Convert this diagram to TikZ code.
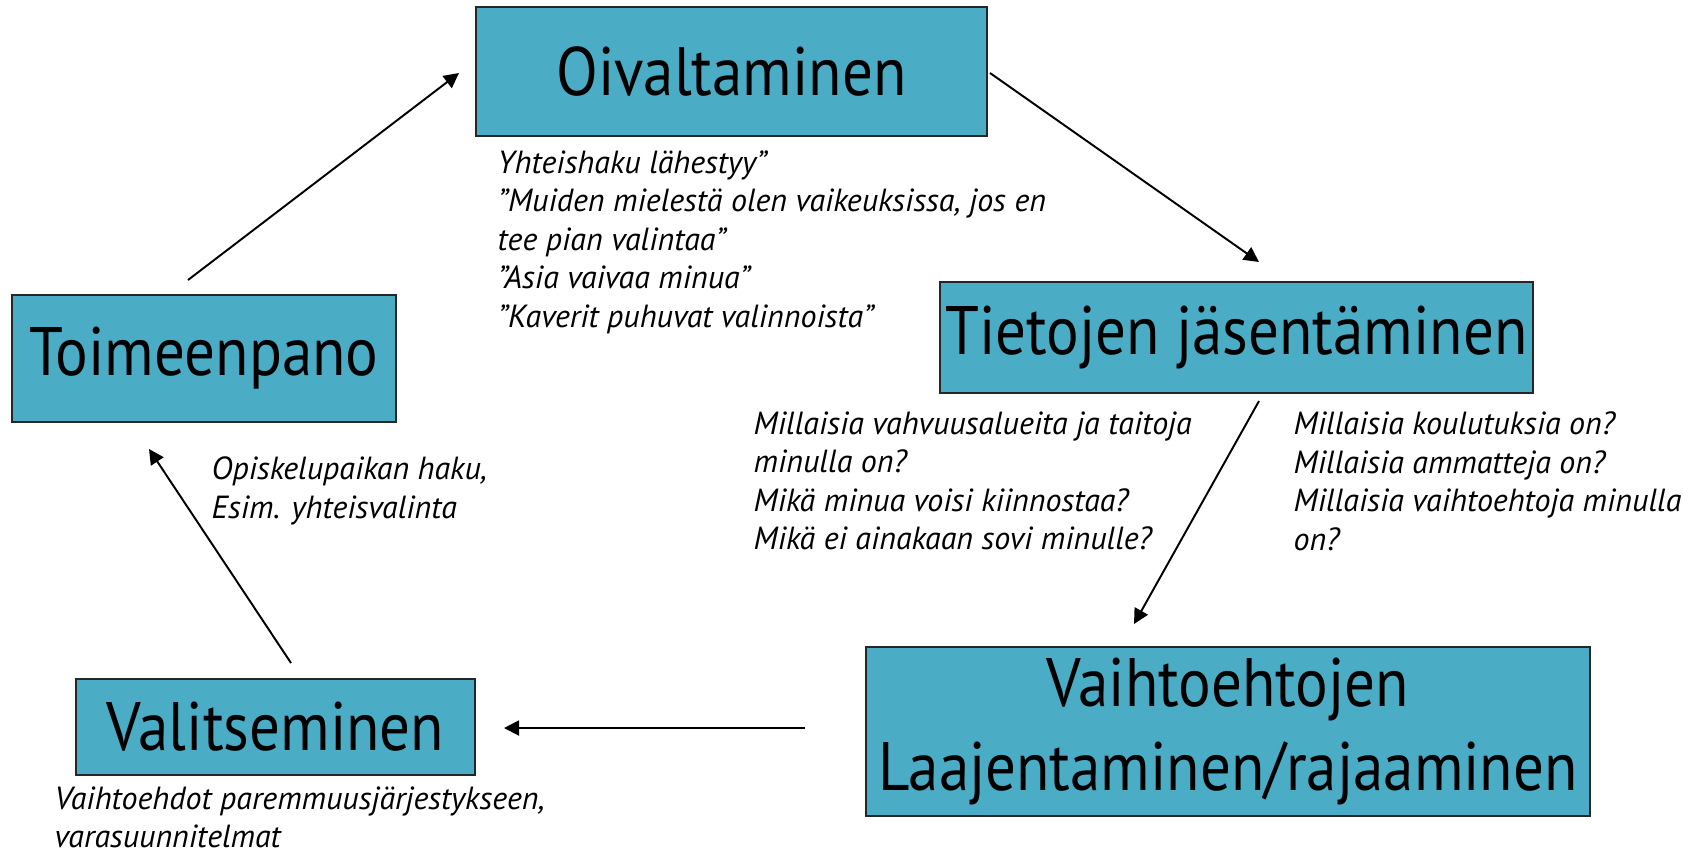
\documentclass[tikz,border=0pt]{standalone}
\usepackage{fontspec}
\setmainfont{PT Sans}
\newfontfamily\phasefont[FakeStretch=0.89]{PT Sans}
\usetikzlibrary{arrows.meta, positioning}
\definecolor{boxteal}{RGB}{75,172,198}

\begin{document}
\begin{tikzpicture}[x=0.01cm, y=-0.01cm,
		phase/.style={draw=black!85, line width=0.6pt, fill=boxteal, inner sep=0pt, align=center, font=\phasefont\fontsize{19.5}{24}\selectfont},
		note/.style={anchor=north west, inner sep=0pt, align=left, font=\fontsize{9.1}{10.95}\selectfont\itshape},
		flow/.style={line width=0.55pt, -{Triangle[length=1.5mm, width=1.5mm]}}]
			% Frame
			\useasboundingbox (0,0) rectangle (1683,854);
			
			% Phases
			\node[phase, minimum width=5.11cm, minimum height=1.29cm] (oival) at (731.5,71.5) {Oivaltaminen};
			\node[phase, minimum width=5.93cm, minimum height=1.11cm] (tiet) at (1236.5,337.5) {Tietojen jäsentäminen};
			\node[phase, minimum width=7.24cm, minimum height=1.69cm] (vaiht) at (1228,731.5) {Vaihtoehtojen\\Laajentaminen/rajaaminen};
			\node[phase, minimum width=3.99cm, minimum height=0.96cm] (valit) at (275.5,727) {Valitseminen};
			\node[phase, minimum width=3.84cm, minimum height=1.27cm] (toim) at (204,358.5) {Toimeenpano};
			
			% Notes
			\node[note] (oivalnote) at (497,150) {Yhteishaku lähestyy”\\”Muiden mielestä olen vaikeuksissa, jos en\\tee pian valintaa”\\”Asia vaivaa minua”\\"Kaverit puhuvat valinnoista"};
			\node[note] (tietnote1) at (753,411) {Millaisia vahvuusalueita ja taitoja\\minulla on?\\Mikä minua voisi kiinnostaa?\\Mikä ei ainakaan sovi minulle?};
			\node[note] (tietnote2) at (1293,411) {Millaisia koulutuksia on?\\Millaisia ammatteja on?\\Millaisia vaihtoehtoja minulla\\on?};
			\node[note] (valitnote) at (211,456) {Opiskelupaikan haku,\\Esim. yhteisvalinta};
			\node[note] (vaihtnote) at (54,786) {Vaihtoehdot paremmuusjärjestykseen,\\varasuunnitelmat};
			
			% Arrow ends
			\coordinate (toimout) at (188,280);
			\coordinate (oivalin) at (459,73);
			\coordinate (oivalout) at (990,73);
			\coordinate (tietin) at (1259,262);
			\coordinate (tietout) at (1259,401);
			\coordinate (vaihtin) at (1134,624);
			\coordinate (vaihtout) at (805,728);
			\coordinate (valitin) at (504,728);
			\coordinate (valitout) at (291,663);
			\coordinate (toimin) at (149,449);
			
			% Cycle
			\draw[flow] (toimout) -- (oivalin);
			\draw[flow] (oivalout) -- (tietin);
			\draw[flow] (tietout) -- (vaihtin);
			\draw[flow] (vaihtout) -- (valitin);
			\draw[flow] (valitout) -- (toimin);
		\end{tikzpicture}
\end{document}
